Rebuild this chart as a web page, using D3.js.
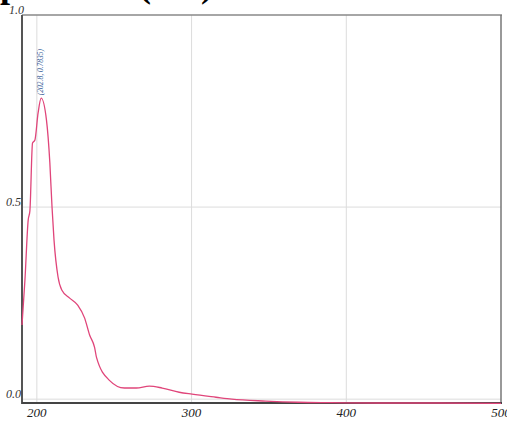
<!DOCTYPE html>
<html>
<head>
<meta charset="utf-8">
<script src="https://cdn.jsdelivr.net/npm/d3@7"></script>
<style>
  body { margin: 0; background: #fff; }
  svg { display: block; }
</style>
</head>
<body>
<div id="chart"></div>
<script>
// wavelength (nm) and absorbance
const wavelength = [190.4, 192.3, 194.4, 195.5, 197.2, 198.7, 200.8, 202.8, 206.2, 208.4, 209.8, 211.1, 213.7,
  216.1, 221.2, 226.4, 230.9, 234.1, 237.3, 238.6, 246.9, 256.6, 264.3, 272.7, 281, 292, 300.3, 315.8,
  326, 347.9, 369, 390, 420, 460, 500]
const absorbance = [0.193, 0.31, 0.466, 0.49, 0.667, 0.674, 0.745, 0.7835, 0.727, 0.615, 0.50, 0.414, 0.318,
  0.284, 0.263, 0.245, 0.211, 0.167, 0.135, 0.108, 0.049, 0.029, 0.029, 0.034, 0.029, 0.018, 0.013, 0.005,
  0.0, -0.005, -0.008, -0.009, -0.01, -0.01, -0.011]
const xTicks = [200, 300, 400, 500]
const yTicks = [0.0, 0.5, 1.0]
const peak = { x: 202.8, y: 0.7835 }
const title = "Spectrum (nm)"

const width = 507, height = 421
const plot = { left: 22, right: 501, top: 15, bottom: 403 }

const svg = d3.select("#chart").append("svg")
  .attr("width", width)
  .attr("height", height)

const xScale = d3.scaleLinear().domain([190.4, 500]).range([plot.left, plot.right])
const yScale = d3.scaleLinear().domain([-0.01, 1.0]).range([plot.bottom, plot.top])

// heading sits mostly above the page edge, only descenders show
svg.append("text")
  .attr("x", -20)
  .attr("y", -3)
  .attr("font-family", "Liberation Serif")
  .attr("font-weight", "bold")
  .attr("font-size", 36)
  .attr("fill", "#000")
  .text(title)

// grid
svg.append("g")
  .selectAll("line")
  .data(xTicks.filter(d => d < 500))
  .enter().append("line")
  .attr("x1", d => xScale(d)).attr("x2", d => xScale(d))
  .attr("y1", plot.top).attr("y2", plot.bottom)
  .attr("stroke", "#dcdcdc")
  .attr("stroke-width", 1)

svg.append("g")
  .selectAll("line")
  .data(yTicks.filter(d => d < 1))
  .enter().append("line")
  .attr("x1", plot.left).attr("x2", plot.right)
  .attr("y1", d => yScale(d)).attr("y2", d => yScale(d))
  .attr("stroke", "#dcdcdc")
  .attr("stroke-width", 1)

// frame
const frame = svg.append("g")
frame.append("line").attr("x1", plot.left).attr("x2", plot.right + 1)
  .attr("y1", plot.top).attr("y2", plot.top)
  .attr("stroke", "#888").attr("stroke-width", 1.5)
frame.append("line").attr("x1", plot.right).attr("x2", plot.right)
  .attr("y1", plot.top).attr("y2", plot.bottom)
  .attr("stroke", "#777").attr("stroke-width", 1.5)
frame.append("line").attr("x1", plot.left).attr("x2", plot.left)
  .attr("y1", plot.top).attr("y2", plot.bottom + 1)
  .attr("stroke", "#555").attr("stroke-width", 2)
frame.append("line").attr("x1", plot.left).attr("x2", plot.right + 1)
  .attr("y1", plot.bottom).attr("y2", plot.bottom)
  .attr("stroke", "#444").attr("stroke-width", 2)

// tick labels
svg.append("g")
  .selectAll("text")
  .data(xTicks)
  .enter().append("text")
  .attr("x", d => xScale(d))
  .attr("y", 417)
  .attr("text-anchor", "middle")
  .attr("font-family", "Liberation Serif")
  .attr("font-style", "italic")
  .attr("font-size", 13)
  .attr("fill", "#222")
  .text(d => d)

svg.append("g")
  .selectAll("text")
  .data(yTicks)
  .enter().append("text")
  .attr("x", d => d === 1 ? 24 : 21)
  .attr("y", d => yScale(d) - 1)
  .attr("text-anchor", "end")
  .attr("font-family", "Liberation Serif")
  .attr("font-style", "italic")
  .attr("font-size", 12)
  .attr("fill", "#333")
  .text(d => d.toFixed(1))

// spectrum
const line = d3.line()
  .x((d, i) => xScale(wavelength[i]))
  .y(d => yScale(d))
  .curve(d3.curveMonotoneX)

svg.append("path")
  .datum(absorbance)
  .attr("d", line)
  .attr("fill", "none")
  .attr("stroke", "#e0457a")
  .attr("stroke-width", 1.3)

// peak annotation
svg.append("text")
  .attr("transform", `translate(${xScale(peak.x) + 2}, ${yScale(peak.y) - 3}) rotate(-90)`)
  .attr("font-family", "Liberation Serif")
  .attr("font-style", "italic")
  .attr("font-size", 7.5)
  .attr("fill", "#3a5f9a")
  .text(`(${peak.x}, ${peak.y})`)
</script>
</body>
</html>
